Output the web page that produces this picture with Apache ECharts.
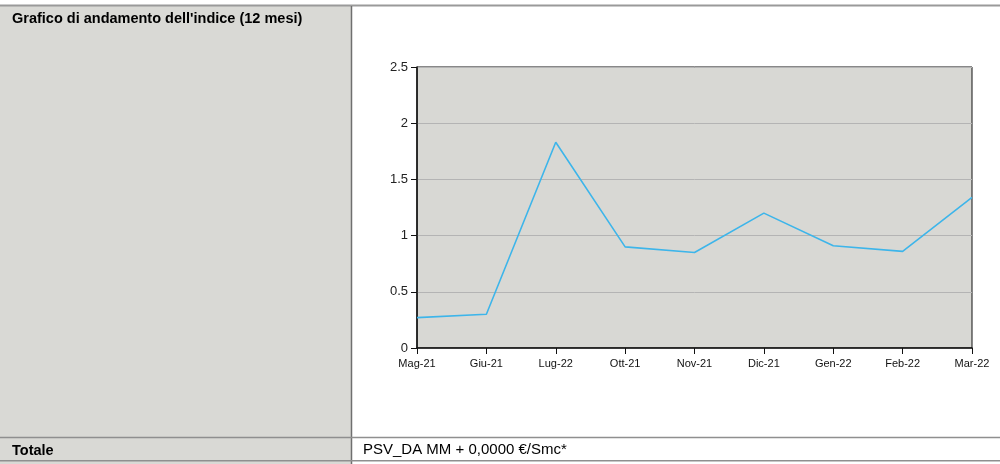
<!DOCTYPE html>
<html>
<head>
<meta charset="utf-8">
<script src="https://cdn.jsdelivr.net/npm/echarts@6/dist/echarts.min.js"></script>
<style>
html,body{margin:0;padding:0;background:#fff;}
#c{width:1000px;height:464px;}
</style>
</head>
<body>
<div id="c"></div>
<script>
var categories = ['Mag-21','Giu-21','Lug-22','Ott-21','Nov-21','Dic-21','Gen-22','Feb-22','Mar-22'];
var indexValues = [0.27, 0.30, 1.83, 0.90, 0.85, 1.20, 0.91, 0.86, 1.34];
var headerText = "Grafico di andamento dell'indice (12 mesi)";
var totalLabel = 'Totale';
var totalValue = 'PSV_DA MM + 0,0000 €/Smc*';

var chart = echarts.init(document.getElementById('c'), null, {renderer:'canvas'});
var font = '"Liberation Sans", Arial, sans-serif';
chart.setOption({
  animation:false,
  backgroundColor:'#fff',
  graphic:[
    {type:'rect', z:-10, shape:{x:0,y:6,width:351,height:458}, style:{fill:'#d9d9d5'}},
    {type:'line', z:-5, shape:{x1:0,y1:5.5,x2:1000,y2:5.5}, style:{stroke:'#9a9a9a',lineWidth:2}},
    {type:'line', z:-5, shape:{x1:351.5,y1:6,x2:351.5,y2:464}, style:{stroke:'#6f6f6f',lineWidth:1.5}},
    {type:'line', z:-5, shape:{x1:0,y1:437.5,x2:1000,y2:437.5}, style:{stroke:'#8f8f8f',lineWidth:1.5}},
    {type:'line', z:-5, shape:{x1:0,y1:460.8,x2:1000,y2:460.8}, style:{stroke:'#8f8f8f',lineWidth:1.5}},
    {type:'text', left:12, top:11, style:{text:headerText, font:'bold 14.5px '+font, fill:'#000'}},
    {type:'text', left:12, top:443, style:{text:totalLabel, font:'bold 14.5px '+font, fill:'#000'}},
    {type:'text', left:363, top:442, style:{text:totalValue, font:'15px '+font, fill:'#000'}}
  ],
  grid:{left:417, top:67, width:555, height:281, show:true, backgroundColor:'#d8d8d4', borderColor:'#111', borderWidth:1, containLabel:false},
  xAxis:{
    type:'category', data:categories, boundaryGap:false,
    axisLine:{show:true, lineStyle:{color:'#111', width:1.5}},
    axisTick:{show:true, length:6, lineStyle:{color:'#111'}},
    axisLabel:{color:'#111', fontFamily:font, fontSize:11, margin:10, interval:0},
    splitLine:{show:false}
  },
  yAxis:{
    type:'value', min:0, max:2.5, interval:0.5,
    axisLine:{show:true, lineStyle:{color:'#111', width:1.5}},
    axisTick:{show:true, length:6, lineStyle:{color:'#111'}},
    axisLabel:{color:'#222', fontFamily:font, fontSize:13, margin:9, formatter:function(v){return String(v);}},
    splitLine:{show:true, lineStyle:{color:'#b4b4b4', width:1}}
  },
  series:[{
    type:'line', data:indexValues, symbol:'none',
    lineStyle:{color:'#3db5ea', width:1.6}
  }]
});
</script>
</body>
</html>
